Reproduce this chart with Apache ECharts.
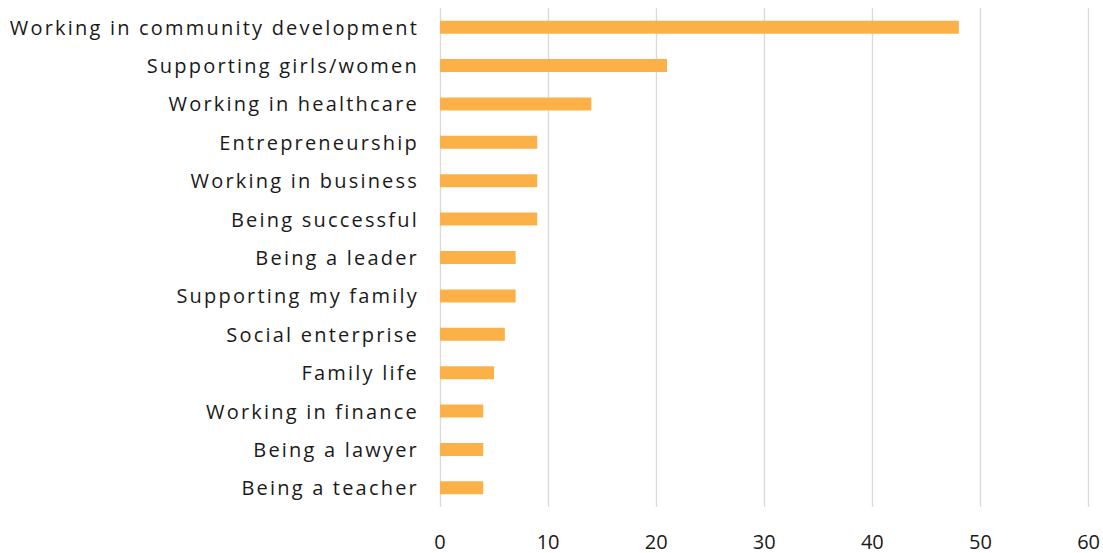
<!DOCTYPE html>
<html><head><meta charset="utf-8">
<script src="https://cdn.jsdelivr.net/npm/echarts@6/dist/echarts.min.js"></script>
<style>html,body{margin:0;padding:0;background:#fff}#c{width:1103px;height:553px}#c text[text-anchor="end"]{letter-spacing:2.2px}</style>
</head><body><div id="c"></div>
<script>
const categories = ["Working in community development","Supporting girls/women","Working in healthcare","Entrepreneurship","Working in business","Being successful","Being a leader","Supporting my family","Social enterprise","Family life","Working in finance","Being a lawyer","Being a teacher"];
const values = [48,21,14,9,9,9,7,7,6,5,4,4,4];
const xTicks = {min:0,max:60,interval:10};
const chart = echarts.init(document.getElementById('c'), null, {renderer:'svg'});
chart.setOption({
  animation:false,
  grid:{left:440,right:13,top:8,bottom:46,containLabel:false},
  xAxis:{type:'value',min:xTicks.min,max:xTicks.max,interval:xTicks.interval,
    axisLine:{show:false},axisTick:{show:false},
    splitLine:{lineStyle:{color:'#d9d9d9',width:1.3}},
    axisLabel:{margin:24,color:'#1a1a1a',fontSize:20,fontFamily:'Open Sans'}},
  yAxis:{type:'category',data:categories,inverse:true,
    axisLine:{show:false},axisTick:{show:false},
    axisLabel:{margin:21,color:'#1a1a1a',fontSize:20,fontFamily:'Open Sans'}},
  series:[{type:'bar',data:values,barWidth:13,itemStyle:{color:'#FBB148'}}]
});
</script></body></html>
